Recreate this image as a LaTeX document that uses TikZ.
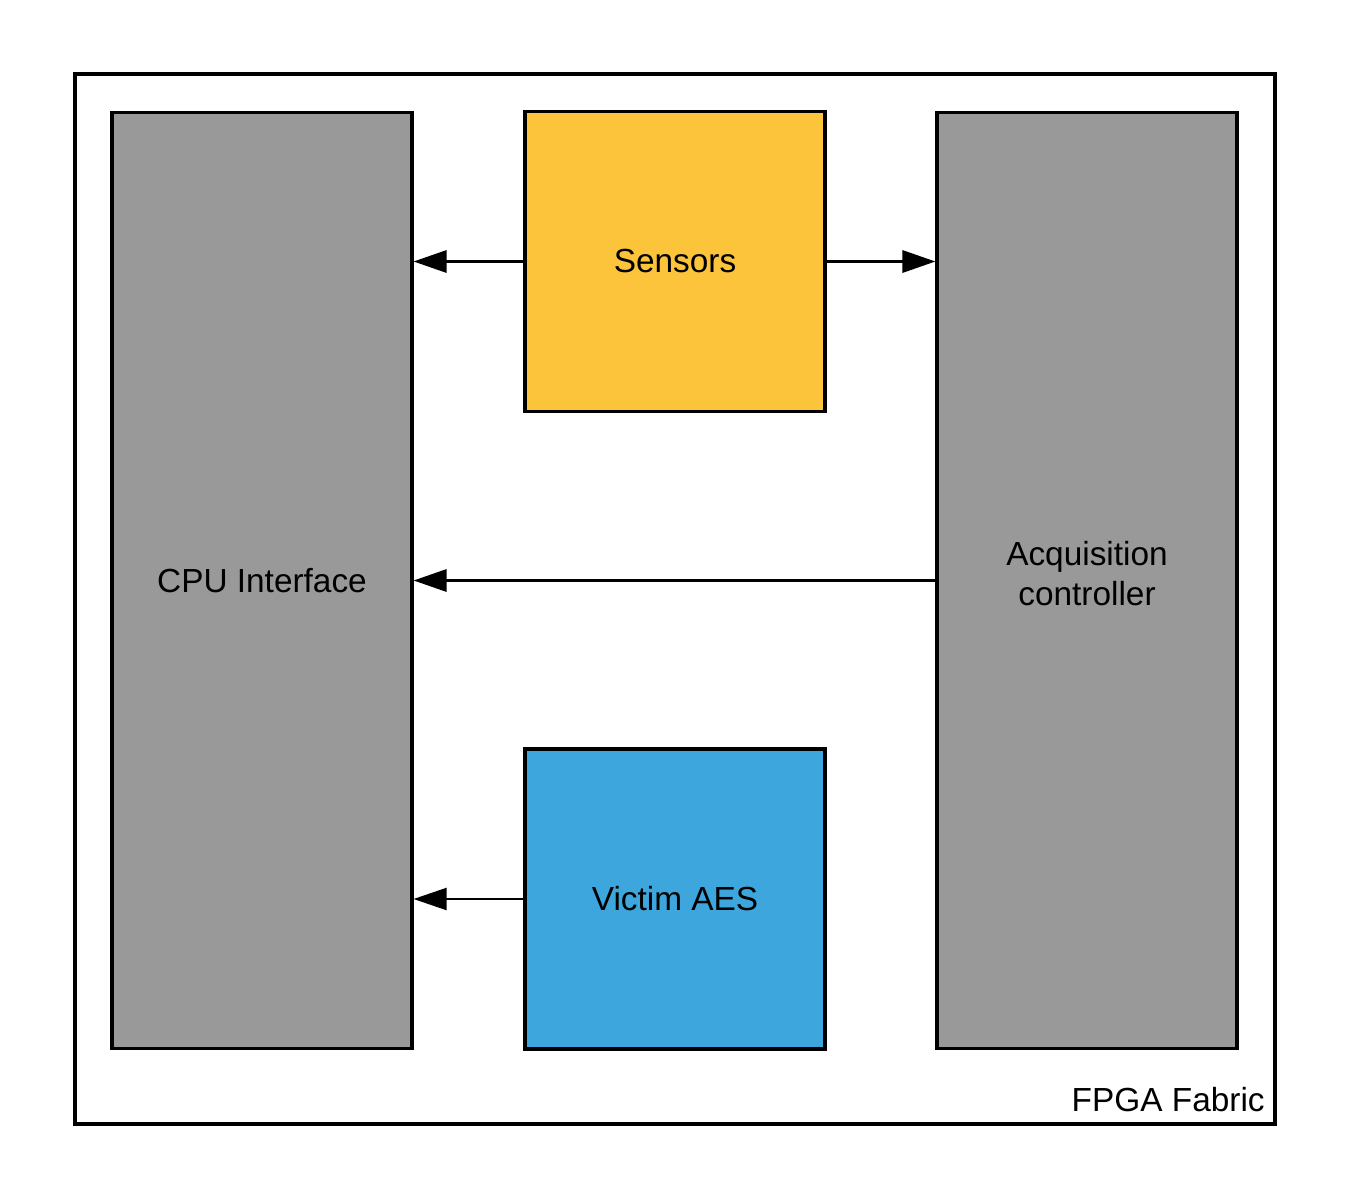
\documentclass[tikz,border=0pt]{standalone}
\usepackage{fontspec}
\setmainfont{Liberation Sans}
\usetikzlibrary{arrows.meta}

\begin{document}
\begin{tikzpicture}[x=0.02cm,y=-0.02cm]
    \useasboundingbox (0,0) rectangle (1350,1200);
    \definecolor{blockgray}{HTML}{999999}
    \definecolor{sensyellow}{HTML}{FBC43B}
    \definecolor{aesblue}{HTML}{3CA6DD}
    \tikzset{Block/.style = {%
        shape= rectangle,
        draw, line width=1.8pt,
        minimum width=6cm,
        align=center,
        font=\fontsize{19}{23}\selectfont},
      TallBlock/.style = {Block, fill=blockgray, minimum height=18.74cm},
      SmallBlock/.style = {Block, minimum height=6cm},
      Link/.style = {line width=1.8pt,
        -{Triangle[length=0.66cm,width=0.44cm]}}}
    % outer fabric
    \draw[line width=1.8pt] (75,74) rectangle (1275,1124);
    \node[anchor=south east,inner sep=0pt,font=\fontsize{19}{22}\selectfont]
        (fabric) at (1265,1112) {FPGA Fabric};
    % blocks
    \node[TallBlock] (cpu) at (262,580.5) {CPU Interface};
    \node[TallBlock,text depth=0.28cm] (acq) at (1087,580.5) {Acquisition\\controller};
    \node[SmallBlock,fill=sensyellow] (sens) at (675,261.5) {Sensors};
    \node[SmallBlock,fill=aesblue] (aes) at (675,899) {Victim AES};
    % links
    \draw[Link] (sens.west) -- (cpu.east |- sens.west);
    \draw[Link] (sens.east) -- (acq.west |- sens.east);
    \draw[Link] (acq.west) -- (cpu.east);
    \draw[Link,line width=1.2pt] (aes.west) -- (cpu.east |- aes.west);
\end{tikzpicture}
\end{document}
